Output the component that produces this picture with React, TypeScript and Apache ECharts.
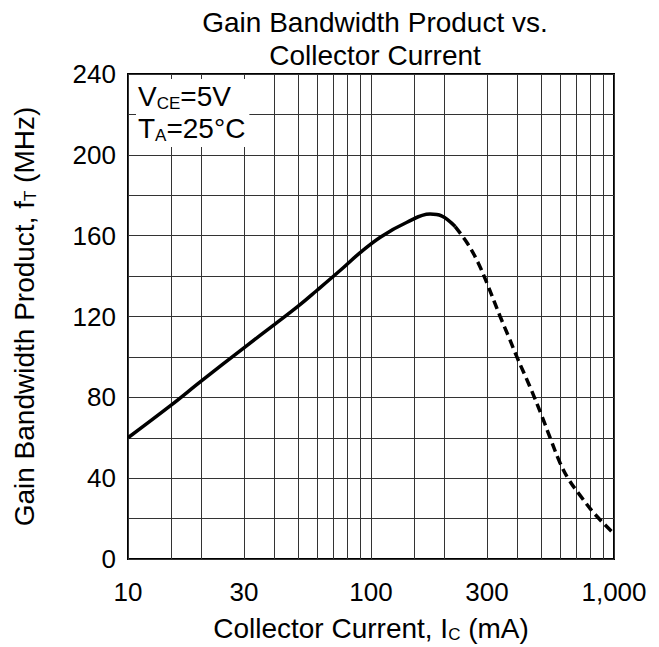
import React, { useEffect, useRef } from 'react';
import * as echarts from 'echarts';

// collector current (mA) and gain bandwidth product (MHz)
const currentSolid = [10, 15, 20, 30, 40, 50, 60, 75, 90, 110, 140, 175, 195, 222];
const ftSolid = [60, 76, 88, 104.5, 116, 125, 133, 143, 151.5, 159.5, 166.5, 170.7, 169.8, 164.5];

const currentDashed = [222, 250, 275, 300, 340, 370, 400, 450, 500, 550, 600, 650, 720, 830, 1000];
const ftDashed = [164.5, 156, 147, 136.5, 120, 109.5, 99.5, 85.5, 72, 59, 47.5, 39.5, 32, 22.5, 12.5];

const xGridValues = [10, 15, 20, 30, 40, 50, 60, 70, 80, 90, 100, 150, 200, 300, 400, 500, 600, 700, 800, 900, 1000];
const xLabelValues = [10, 30, 100, 300, 1000];
const yLabelValues = [0, 40, 80, 120, 160, 200, 240];

const FONT = '"Liberation Sans", Arial, Helvetica, sans-serif';

const App: React.FC = () => {
  const chartRef = useRef<HTMLDivElement>(null);

  useEffect(() => {
    if (!chartRef.current) return;
    const myChart = echarts.init(chartRef.current, null, { renderer: 'svg' });

    const gridLine = { color: '#333', width: 1 };
    const rich = {
      m: { fontSize: 28, fontFamily: FONT, color: '#000', lineHeight: 30 },
      s: { fontSize: 17, fontFamily: FONT, color: '#000', lineHeight: 22, verticalAlign: 'bottom' },
    };

    const option = {
      animation: false,
      textStyle: { fontFamily: FONT, color: '#000' },
      title: {
        text: 'Gain Bandwidth Product vs.\nCollector Current',
        left: 375,
        top: 6,
        padding: 0,
        textAlign: 'center',
        textStyle: { fontSize: 28, lineHeight: 33, fontWeight: 'normal', color: '#000', fontFamily: FONT },
      },
      grid: {
        left: 128,
        right: 45,
        top: 74,
        bottom: 88,
        show: true,
        borderColor: '#000',
        borderWidth: 2,
        backgroundColor: '#fff',
        outerBoundsMode: 'none',
      },
      xAxis: {
        type: 'value',
        min: 1,
        max: 3,
        name: '{m|Collector Current, I}{s|C}{m| (mA)}',
        nameLocation: 'middle',
        nameGap: 54,
        nameTextStyle: { rich },
        axisLine: { show: false },
        axisTick: { show: false, customValues: xGridValues.map((v) => Math.log10(v)) },
        splitLine: { show: true, lineStyle: gridLine },
        axisLabel: {
          customValues: xLabelValues.map((v) => Math.log10(v)),
          formatter: (v: number) => Math.round(Math.pow(10, v)).toLocaleString('en-US'),
          fontSize: 26,
          color: '#000',
          margin: 20,
        },
      },
      yAxis: {
        type: 'value',
        min: 0,
        max: 240,
        interval: 20,
        name: '{m|Gain Bandwidth Product, f}{s|T}{m| (MHz)}',
        nameLocation: 'middle',
        nameRotate: 90,
        nameGap: 89,
        nameTextStyle: { rich },
        axisLine: { show: false },
        axisTick: { show: false },
        splitLine: { show: true, lineStyle: gridLine },
        axisLabel: { customValues: yLabelValues, fontSize: 26, color: '#000', margin: 12 },
      },
      graphic: [
        {
          type: 'text',
          left: 136,
          top: 79,
          z: 100,
          style: {
            text: '{m|V}{s|CE}{m|=5V}\n{m|T}{s|A}{m|=25°C}',
            rich: {
              m: { fontSize: 28, fontFamily: FONT, fill: '#000', lineHeight: 32 },
              s: { fontSize: 17, fontFamily: FONT, fill: '#000', lineHeight: 21, verticalAlign: 'bottom' },
            },
            backgroundColor: '#fff',
            padding: [1, 4, 3, 2],
          },
        },
      ],
      series: [
        {
          type: 'line',
          showSymbol: false,
          smooth: 0.4,
          lineStyle: { color: '#000', width: 3.5 },
          data: currentSolid.map((c, i) => [Math.log10(c), ftSolid[i]]),
        },
        {
          type: 'line',
          showSymbol: false,
          smooth: 0.4,
          lineStyle: { color: '#000', width: 3.5, type: [9, 5] },
          data: currentDashed.map((c, i) => [Math.log10(c), ftDashed[i]]),
        },
      ],
    };
    myChart.setOption(option);
    return () => { myChart.dispose(); };
  }, []);

  return <div ref={chartRef} style={{ position: 'absolute', left: 0, top: 0, width: 659, height: 647, background: '#fff' }} />;
};

export default App;
